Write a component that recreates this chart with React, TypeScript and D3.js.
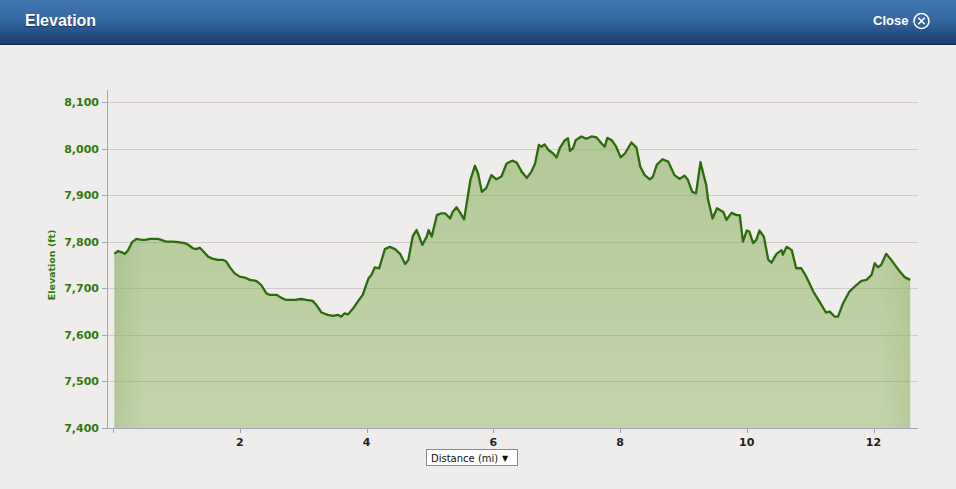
import React from "react";
import * as d3 from "d3";

const distanceMi = [
  0.02, 0.08, 0.14, 0.19, 0.24, 0.30, 0.37, 0.45, 0.51, 0.58, 0.71, 0.76, 0.84, 0.95, 1.03, 1.13, 1.18, 1.26, 1.31, 1.37,
  1.42, 1.50, 1.58, 1.66, 1.74, 1.79, 1.84, 1.92, 2.00, 2.08, 2.16, 2.26, 2.34, 2.42, 2.47, 2.58, 2.65, 2.73, 2.87, 2.97,
  3.05, 3.15, 3.21, 3.29, 3.39, 3.47, 3.55, 3.60, 3.65, 3.71, 3.79, 3.86, 3.94, 4.03, 4.08, 4.13, 4.20, 4.29, 4.37, 4.45,
  4.53, 4.61, 4.66, 4.73, 4.79, 4.83, 4.88, 4.95, 4.98, 5.03, 5.11, 5.18, 5.24, 5.32, 5.36, 5.42, 5.47, 5.54, 5.59, 5.64,
  5.71, 5.76, 5.82, 5.89, 5.97, 6.05, 6.13, 6.21, 6.30, 6.37, 6.45, 6.53, 6.60, 6.66, 6.72, 6.76, 6.81, 6.87, 6.94, 7.00,
  7.05, 7.13, 7.18, 7.21, 7.26, 7.30, 7.39, 7.47, 7.55, 7.63, 7.71, 7.76, 7.80, 7.87, 7.94, 8.01, 8.08, 8.18, 8.26, 8.32,
  8.39, 8.47, 8.52, 8.58, 8.67, 8.76, 8.86, 8.94, 9.02, 9.07, 9.14, 9.20, 9.27, 9.32, 9.36, 9.39, 9.46, 9.53, 9.63, 9.68,
  9.76, 9.84, 9.89, 9.94, 10.00, 10.04, 10.10, 10.15, 10.20, 10.27, 10.34, 10.39, 10.47, 10.55, 10.57, 10.63, 10.71, 10.78,
  10.86, 10.94, 11.05, 11.15, 11.25, 11.31, 11.39, 11.44, 11.52, 11.62, 11.73, 11.81, 11.89, 11.97, 12.02, 12.07, 12.12,
  12.20, 12.28, 12.36, 12.41, 12.49, 12.58,
];

const elevationFt = [
  7774, 7780, 7777, 7774, 7782, 7799, 7806, 7804, 7804, 7806, 7806, 7804, 7800, 7800, 7799, 7797, 7794, 7786, 7784, 7787,
  7780, 7768, 7763, 7761, 7761, 7757, 7746, 7732, 7725, 7723, 7718, 7716, 7707, 7689, 7686, 7686, 7680, 7675, 7675, 7677,
  7675, 7673, 7664, 7648, 7643, 7641, 7643, 7639, 7646, 7644, 7657, 7671, 7686, 7721, 7729, 7745, 7743, 7784, 7789, 7784,
  7774, 7752, 7761, 7812, 7825, 7812, 7793, 7811, 7825, 7811, 7857, 7861, 7861, 7850, 7864, 7874, 7864, 7848, 7890, 7933,
  7963, 7947, 7907, 7915, 7943, 7934, 7940, 7968, 7974, 7970, 7950, 7937, 7950, 7968, 8008, 8004, 8009, 7997, 7990, 7981,
  8001, 8018, 8022, 7995, 8001, 8018, 8026, 8021, 8026, 8024, 8011, 8004, 8023, 8018, 8004, 7981, 7990, 8013, 8002, 7961,
  7943, 7934, 7940, 7965, 7977, 7972, 7943, 7935, 7942, 7933, 7907, 7904, 7971, 7943, 7922, 7890, 7850, 7872, 7864, 7847,
  7862, 7857, 7857, 7800, 7824, 7822, 7797, 7804, 7824, 7811, 7761, 7755, 7774, 7782, 7772, 7789, 7782, 7743,
  7743, 7725, 7693, 7671, 7648, 7650, 7639, 7639, 7668, 7693, 7707, 7716, 7718, 7729, 7754, 7745, 7750,
  7774, 7761, 7746, 7737, 7724, 7718,
];

const yTicks = [7400, 7500, 7600, 7700, 7800, 7900, 8000, 8100];
const xTicks = [0, 2, 4, 6, 8, 10, 12];
const xTickLabels = ["", "2", "4", "6", "8", "10", "12"];

const W = 956;
const H = 489;

export default function App() {
  const x = d3.scaleLinear().domain([0, 12]).range([113, 873.5]);
  const y = d3.scaleLinear().domain([7400, 8100]).range([428, 102]);
  const pts: [number, number][] = distanceMi.map((d, i) => [d, elevationFt[i]]);

  const area = d3
    .area<[number, number]>()
    .x((d) => x(d[0]))
    .y0(y(7400))
    .y1((d) => y(d[1]))
    .curve(d3.curveLinear);
  const line = d3
    .line<[number, number]>()
    .x((d) => x(d[0]))
    .y((d) => y(d[1]))
    .curve(d3.curveLinear);

  const plotL = 107;
  const plotR = 918;
  const firstX = x(distanceMi[0]);
  const lastX = x(distanceMi[distanceMi.length - 1]);
  const fmt = d3.format(",");

  return (
    <svg
      width={W}
      height={H}
      style={{ position: "absolute", left: 0, top: 0, display: "block" }}
      xmlns="http://www.w3.org/2000/svg"
    >
      <defs>
        <linearGradient id="hdr" x1="0" y1="0" x2="0" y2="1">
          <stop offset="0%" stopColor="#4378b2" />
          <stop offset="45%" stopColor="#3567a2" />
          <stop offset="100%" stopColor="#1b3d6e" />
        </linearGradient>
        <linearGradient id="fillV" x1="0" y1="0" x2="0" y2="1">
          <stop offset="0%" stopColor="#b2c896" />
          <stop offset="100%" stopColor="#c4d5ab" />
        </linearGradient>
        <linearGradient id="fillH" x1="0" y1="0" x2="1" y2="0">
          <stop offset="0%" stopColor="#7f9f62" stopOpacity="0.22" />
          <stop offset="4%" stopColor="#7f9f62" stopOpacity="0" />
          <stop offset="96%" stopColor="#7f9f62" stopOpacity="0" />
          <stop offset="100%" stopColor="#7f9f62" stopOpacity="0.18" />
        </linearGradient>
        <clipPath id="areaClip">
          <path d={area(pts) || ""} />
        </clipPath>
      </defs>

      <rect x={0} y={0} width={W} height={H} fill="#eeedeb" />

      {/* header */}
      <rect x={0} y={0} width={W} height={44} fill="url(#hdr)" />
      <line x1={0} x2={W} y1={44.5} y2={44.5} stroke="#0e2444" strokeWidth={1} />
      <text
        x={25}
        y={26}
        fill="#ffffff"
        fontFamily="'Liberation Sans', Arial, sans-serif"
        fontWeight="bold"
        fontSize={16}
        style={{ textShadow: "0 1px 1px rgba(0,0,0,0.5)" }}
      >
        Elevation
      </text>
      <text
        x={873}
        y={25}
        fill="#ffffff"
        fontFamily="'Liberation Sans', Arial, sans-serif"
        fontWeight="bold"
        fontSize={13}
      >
        Close
      </text>
      <circle cx={921.5} cy={21} r={7.5} fill="none" stroke="#ffffff" strokeWidth={1.6} />
      <path d="M918.3,17.8 L924.7,24.2 M924.7,17.8 L918.3,24.2" stroke="#ffffff" strokeWidth={1.6} />

      {/* gridlines */}
      {yTicks.map((t) => (
        <line
          key={"g" + t}
          x1={plotL}
          x2={plotR}
          y1={Math.round(y(t)) + 0.5}
          y2={Math.round(y(t)) + 0.5}
          stroke="#cfcbcb"
          strokeWidth={1}
        />
      ))}

      {/* area */}
      <path d={area(pts) || ""} fill="url(#fillV)" />
      <g clipPath="url(#areaClip)">
        <rect x={firstX} y={100} width={lastX - firstX} height={330} fill="url(#fillH)" />
      </g>
      {yTicks.slice(1).map((t) => (
        <line
          key={"gi" + t}
          x1={firstX}
          x2={lastX}
          y1={Math.round(y(t)) + 0.5}
          y2={Math.round(y(t)) + 0.5}
          stroke="#a9bb92"
          strokeWidth={1}
          clipPath="url(#areaClip)"
        />
      ))}
      <path d={line(pts) || ""} fill="none" stroke="#2c6b0c" strokeWidth={2.3} strokeLinejoin="round" />

      {/* y axis */}
      <line x1={plotL + 0.5} x2={plotL + 0.5} y1={90} y2={428} stroke="#a3a3b3" strokeWidth={1} />
      {yTicks.map((t) => (
        <g key={"yt" + t}>
          <line
            x1={102}
            x2={plotL}
            y1={Math.round(y(t)) + 0.5}
            y2={Math.round(y(t)) + 0.5}
            stroke="#a3a3b3"
          />
          <text
            x={99}
            y={y(t) + 4}
            textAnchor="end"
            fill="#2f7a0c"
            fontFamily="'DejaVu Sans', Verdana, sans-serif"
            fontWeight="bold"
            fontSize={11}
          >
            {fmt(t)}
          </text>
        </g>
      ))}
      <text
        transform={`translate(55,${(102 + 428) / 2}) rotate(-90)`}
        textAnchor="middle"
        fill="#2f7a0c"
        fontFamily="'DejaVu Sans', Verdana, sans-serif"
        fontWeight="bold"
        fontSize={9.5}
      >
        Elevation (ft)
      </text>

      {/* x axis */}
      <line x1={plotL} x2={plotR} y1={428.5} y2={428.5} stroke="#a3a3b3" strokeWidth={1} />
      {xTicks.map((t, i) => (
        <g key={"xt" + t}>
          <line
            x1={Math.round(x(t)) + 0.5}
            x2={Math.round(x(t)) + 0.5}
            y1={428}
            y2={433}
            stroke="#a3a3b3"
          />
          <text
            x={x(t)}
            y={446}
            textAnchor="middle"
            fill="#222222"
            fontFamily="'DejaVu Sans', Verdana, sans-serif"
            fontWeight="bold"
            fontSize={11}
          >
            {xTickLabels[i]}
          </text>
        </g>
      ))}

      {/* dropdown */}
      <rect x={426.5} y={449.5} width={91} height={16} fill="#ffffff" stroke="#8a8a8a" strokeWidth={1} />
      <text
        x={431}
        y={461.5}
        fill="#111111"
        fontFamily="'DejaVu Sans', Verdana, sans-serif"
        fontSize={10}
      >
        Distance (mi)
      </text>
      <text
        x={505}
        y={461}
        fill="#111111"
        fontFamily="'DejaVu Sans', sans-serif"
        fontSize={8}
        textAnchor="middle"
      >
        ▼
      </text>
    </svg>
  );
}
